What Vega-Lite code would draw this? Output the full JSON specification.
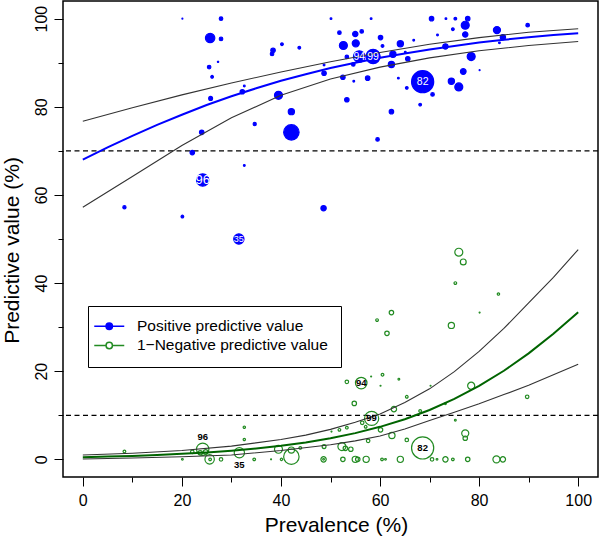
{
"$schema":"https://vega.github.io/schema/vega-lite/v6.json",
"width":535,"height":476,"autosize":"none",
"padding":{"left":63,"top":1,"right":2,"bottom":59},
"background":"white",
"config":{
 "view":{"stroke":"black","strokeWidth":1.5},
 "font":"Liberation Sans",
 "axis":{"domain":false,"grid":false,"tickColor":"black","tickWidth":1,"labelFont":"Liberation Sans","labelFontSize":16,"labelColor":"black","titleFont":"Liberation Sans","titleFontSize":21,"titleFontWeight":"normal","titleColor":"black"}
},
"datasets":{
"refs":[{"y":70},{"y":10}],
"pts":[
{"s":"PPV","x":20.1,"y":100,"n":3},{"s":"PPV","x":27.9,"y":100,"n":40},{"s":"PPV","x":25.7,"y":95.6,"n":281},{"s":"PPV","x":27.9,"y":95.4,"n":40},
{"s":"PPV","x":27.3,"y":90.2,"n":6},{"s":"PPV","x":25.5,"y":89.0,"n":40},{"s":"PPV","x":26.1,"y":86.8,"n":23},{"s":"PPV","x":25.8,"y":81.9,"n":48},
{"s":"PPV","x":24.0,"y":74.2,"n":63},{"s":"PPV","x":22.1,"y":69.6,"n":63},{"s":"PPV","x":24.2,"y":63.4,"n":490},{"s":"PPV","x":8.4,"y":57.2,"n":32},
{"s":"PPV","x":20.1,"y":55.1,"n":23},{"s":"PPV","x":31.5,"y":50.0,"n":336},{"s":"PPV","x":32.6,"y":66.7,"n":10},{"s":"PPV","x":34.7,"y":76.1,"n":32},
{"s":"PPV","x":32.6,"y":84.7,"n":10},{"s":"PPV","x":32.2,"y":83.4,"n":63},{"s":"PPV","x":39.5,"y":82.6,"n":203},{"s":"PPV","x":42.1,"y":78.9,"n":123},
{"s":"PPV","x":42.1,"y":74.2,"n":757},{"s":"PPV","x":38.4,"y":92.8,"n":63},{"s":"PPV","x":38.2,"y":92.0,"n":40},{"s":"PPV","x":40.2,"y":94.2,"n":23},
{"s":"PPV","x":43.7,"y":93.4,"n":23},{"s":"PPV","x":50.1,"y":100,"n":10},{"s":"PPV","x":58.2,"y":100,"n":10},{"s":"PPV","x":70.4,"y":100,"n":63},
{"s":"PPV","x":73.3,"y":100,"n":10},{"s":"PPV","x":75.2,"y":100,"n":23},{"s":"PPV","x":77.7,"y":100,"n":63},{"s":"PPV","x":77.2,"y":98.5,"n":203},
{"s":"PPV","x":77.2,"y":96.4,"n":90},{"s":"PPV","x":74.7,"y":97.6,"n":23},{"s":"PPV","x":71.6,"y":96.3,"n":10},{"s":"PPV","x":83.6,"y":97.4,"n":160},
{"s":"PPV","x":89.8,"y":98.5,"n":40},{"s":"PPV","x":84.8,"y":95.8,"n":90},{"s":"PPV","x":84.1,"y":94.5,"n":10},{"s":"PPV","x":78.4,"y":91.4,"n":203},
{"s":"PPV","x":76.8,"y":88.0,"n":102},{"s":"PPV","x":80.1,"y":88.3,"n":3},{"s":"PPV","x":74.4,"y":85.8,"n":123},{"s":"PPV","x":75.9,"y":84.5,"n":203},
{"s":"PPV","x":68.6,"y":85.7,"n":1563},{"s":"PPV","x":70.6,"y":82.8,"n":40},{"s":"PPV","x":68.1,"y":80.5,"n":23},{"s":"PPV","x":65.4,"y":84.3,"n":23},
{"s":"PPV","x":63.7,"y":86.5,"n":10},{"s":"PPV","x":62.3,"y":78.9,"n":63},{"s":"PPV","x":59.5,"y":72.6,"n":40},{"s":"PPV","x":48.6,"y":57.0,"n":90},
{"s":"PPV","x":53.3,"y":81.6,"n":63},{"s":"PPV","x":57.5,"y":86.5,"n":63},{"s":"PPV","x":54.7,"y":85.8,"n":10},{"s":"PPV","x":52.5,"y":86.7,"n":63},
{"s":"PPV","x":48.7,"y":87.6,"n":63},{"s":"PPV","x":48.7,"y":89.5,"n":10},{"s":"PPV","x":51.8,"y":96.8,"n":40},{"s":"PPV","x":55.0,"y":96.5,"n":90},
{"s":"PPV","x":56.3,"y":97.1,"n":40},{"s":"PPV","x":52.6,"y":93.9,"n":203},{"s":"PPV","x":55.1,"y":94.4,"n":160},{"s":"PPV","x":55.8,"y":91.4,"n":423},
{"s":"PPV","x":58.6,"y":91.4,"n":640},{"s":"PPV","x":60.1,"y":95.7,"n":63},{"s":"PPV","x":60.5,"y":93.8,"n":23},{"s":"PPV","x":64.1,"y":94.3,"n":123},
{"s":"PPV","x":66.8,"y":95.1,"n":10},{"s":"PPV","x":62.6,"y":91.9,"n":123},{"s":"PPV","x":62.3,"y":89.6,"n":123},{"s":"PPV","x":65.6,"y":90.9,"n":63},
{"s":"PPV","x":73.2,"y":93.7,"n":90},{"s":"PPV","x":65.1,"y":92.4,"n":10},{"s":"PPV","x":54.6,"y":89.6,"n":40},{"s":"PPV","x":53.3,"y":91.3,"n":40},
{"s":"NPV","x":8.4,"y":1.8,"n":23},{"s":"NPV","x":20.1,"y":0.0,"n":10},{"s":"NPV","x":24.2,"y":2.3,"n":490},{"s":"NPV","x":22.1,"y":1.7,"n":40},
{"s":"NPV","x":23.7,"y":1.5,"n":63},{"s":"NPV","x":24.8,"y":1.7,"n":63},{"s":"NPV","x":25.6,"y":0.0,"n":281},{"s":"NPV","x":25.7,"y":0.0,"n":23},
{"s":"NPV","x":27.9,"y":0.0,"n":40},{"s":"NPV","x":32.6,"y":7.3,"n":17},{"s":"NPV","x":32.6,"y":4.5,"n":17},{"s":"NPV","x":31.6,"y":1.5,"n":336},
{"s":"NPV","x":34.6,"y":0.0,"n":23},{"s":"NPV","x":38.0,"y":0.0,"n":3},{"s":"NPV","x":39.5,"y":2.3,"n":203},{"s":"NPV","x":40.1,"y":0.0,"n":17},
{"s":"NPV","x":42.1,"y":0.6,"n":757},{"s":"NPV","x":42.1,"y":2.1,"n":123},{"s":"NPV","x":43.9,"y":2.6,"n":23},{"s":"NPV","x":48.7,"y":2.9,"n":48},
{"s":"NPV","x":48.6,"y":0.0,"n":90},{"s":"NPV","x":48.6,"y":0.0,"n":10},{"s":"NPV","x":52.3,"y":2.9,"n":203},{"s":"NPV","x":53.0,"y":2.5,"n":63},
{"s":"NPV","x":54.1,"y":2.3,"n":63},{"s":"NPV","x":52.5,"y":0.0,"n":63},{"s":"NPV","x":55.0,"y":0.0,"n":123},{"s":"NPV","x":55.5,"y":0.0,"n":63},
{"s":"NPV","x":57.2,"y":0.0,"n":123},{"s":"NPV","x":60.4,"y":0.0,"n":23},{"s":"NPV","x":61.1,"y":0.0,"n":10},{"s":"NPV","x":64.1,"y":0.0,"n":123},
{"s":"NPV","x":68.6,"y":2.6,"n":1563},{"s":"NPV","x":70.5,"y":0.0,"n":40},{"s":"NPV","x":71.5,"y":0.0,"n":10},{"s":"NPV","x":73.2,"y":0.0,"n":90},
{"s":"NPV","x":74.7,"y":0.0,"n":23},{"s":"NPV","x":77.7,"y":0.0,"n":63},{"s":"NPV","x":83.5,"y":0.0,"n":160},{"s":"NPV","x":84.8,"y":0.0,"n":90},
{"s":"NPV","x":65.4,"y":4.4,"n":40},{"s":"NPV","x":62.4,"y":5.4,"n":123},{"s":"NPV","x":57.6,"y":4.2,"n":40},{"s":"NPV","x":60.1,"y":6.7,"n":63},
{"s":"NPV","x":58.3,"y":9.3,"n":640},{"s":"NPV","x":56.4,"y":8.3,"n":40},{"s":"NPV","x":57.1,"y":7.4,"n":23},{"s":"NPV","x":53.3,"y":7.2,"n":23},
{"s":"NPV","x":51.8,"y":6.7,"n":23},{"s":"NPV","x":50.2,"y":6.3,"n":3},{"s":"NPV","x":54.8,"y":12.7,"n":63},{"s":"NPV","x":56.2,"y":17.3,"n":423},
{"s":"NPV","x":53.3,"y":17.6,"n":40},{"s":"NPV","x":58.2,"y":18.8,"n":3},{"s":"NPV","x":60.5,"y":19.2,"n":23},{"s":"NPV","x":60.1,"y":16.7,"n":3},
{"s":"NPV","x":63.8,"y":18.2,"n":10},{"s":"NPV","x":62.8,"y":11.4,"n":90},{"s":"NPV","x":65.4,"y":14.2,"n":23},{"s":"NPV","x":68.1,"y":11.0,"n":23},
{"s":"NPV","x":70.2,"y":16.7,"n":3},{"s":"NPV","x":73.2,"y":12.6,"n":10},{"s":"NPV","x":75.2,"y":8.9,"n":10},{"s":"NPV","x":78.4,"y":16.7,"n":160},
{"s":"NPV","x":77.2,"y":5.9,"n":160},{"s":"NPV","x":77.2,"y":4.8,"n":63},{"s":"NPV","x":89.7,"y":14.2,"n":40},{"s":"NPV","x":75.9,"y":47.0,"n":203},
{"s":"NPV","x":76.8,"y":44.8,"n":109},{"s":"NPV","x":75.2,"y":40.0,"n":23},{"s":"NPV","x":83.9,"y":37.5,"n":17},{"s":"NPV","x":80.1,"y":33.3,"n":3},
{"s":"NPV","x":74.4,"y":30.4,"n":123},{"s":"NPV","x":62.3,"y":33.3,"n":63},{"s":"NPV","x":59.4,"y":31.6,"n":23},{"s":"NPV","x":61.4,"y":28.6,"n":63}
],
"curves":[
{"c":"ppv","x":0,"y":68.0},{"c":"ppv","x":5,"y":70.8},{"c":"ppv","x":10,"y":73.4},{"c":"ppv","x":15,"y":75.9},{"c":"ppv","x":20,"y":78.2},{"c":"ppv","x":25,"y":80.4},{"c":"ppv","x":30,"y":82.4},{"c":"ppv","x":35,"y":84.2},{"c":"ppv","x":40,"y":85.9},{"c":"ppv","x":45,"y":87.4},{"c":"ppv","x":50,"y":88.8},{"c":"ppv","x":55,"y":90.0},{"c":"ppv","x":60,"y":91.1},{"c":"ppv","x":65,"y":92.1},{"c":"ppv","x":70,"y":93.0},{"c":"ppv","x":75,"y":93.8},{"c":"ppv","x":80,"y":94.6},{"c":"ppv","x":85,"y":95.2},{"c":"ppv","x":90,"y":95.8},{"c":"ppv","x":95,"y":96.3},{"c":"ppv","x":100,"y":96.7},
{"c":"ppvhi","x":0,"y":76.7},{"c":"ppvhi","x":10,"y":79.8},{"c":"ppvhi","x":20,"y":82.7},{"c":"ppvhi","x":30,"y":85.4},{"c":"ppvhi","x":40,"y":87.9},{"c":"ppvhi","x":50,"y":90.2},{"c":"ppvhi","x":60,"y":92.3},{"c":"ppvhi","x":70,"y":94.2},{"c":"ppvhi","x":80,"y":95.7},{"c":"ppvhi","x":90,"y":96.9},{"c":"ppvhi","x":100,"y":97.7},
{"c":"ppvlo","x":0,"y":57.2},{"c":"ppvlo","x":10,"y":64.2},{"c":"ppvlo","x":20,"y":71.2},{"c":"ppvlo","x":30,"y":77.5},{"c":"ppvlo","x":40,"y":82.6},{"c":"ppvlo","x":50,"y":86.3},{"c":"ppvlo","x":60,"y":89.0},{"c":"ppvlo","x":70,"y":91.1},{"c":"ppvlo","x":80,"y":92.7},{"c":"ppvlo","x":90,"y":93.9},{"c":"ppvlo","x":100,"y":94.8},
{"c":"npv","x":0,"y":0.5},{"c":"npv","x":5,"y":0.63},{"c":"npv","x":10,"y":0.79},{"c":"npv","x":15,"y":0.99},{"c":"npv","x":20,"y":1.25},{"c":"npv","x":25,"y":1.57},{"c":"npv","x":30,"y":1.96},{"c":"npv","x":35,"y":2.46},{"c":"npv","x":40,"y":3.08},{"c":"npv","x":45,"y":3.84},{"c":"npv","x":50,"y":4.79},{"c":"npv","x":55,"y":5.95},{"c":"npv","x":60,"y":7.38},{"c":"npv","x":65,"y":9.11},{"c":"npv","x":70,"y":11.2},{"c":"npv","x":75,"y":13.71},{"c":"npv","x":80,"y":16.66},{"c":"npv","x":85,"y":20.1},{"c":"npv","x":90,"y":24.05},{"c":"npv","x":95,"y":28.5},{"c":"npv","x":100,"y":33.4},
{"c":"npvhi","x":0,"y":1.0},{"c":"npvhi","x":10,"y":1.4},{"c":"npvhi","x":20,"y":2.0},{"c":"npvhi","x":30,"y":3.0},{"c":"npvhi","x":40,"y":4.5},{"c":"npvhi","x":45,"y":5.5},{"c":"npvhi","x":50,"y":6.8},{"c":"npvhi","x":55,"y":8.4},{"c":"npvhi","x":60,"y":10.3},{"c":"npvhi","x":65,"y":12.9},{"c":"npvhi","x":70,"y":16.0},{"c":"npvhi","x":75,"y":19.9},{"c":"npvhi","x":80,"y":24.5},{"c":"npvhi","x":85,"y":29.7},{"c":"npvhi","x":90,"y":35.5},{"c":"npvhi","x":95,"y":41.3},{"c":"npvhi","x":100,"y":47.6},
{"c":"npvlo","x":0,"y":0.1},{"c":"npvlo","x":10,"y":0.3},{"c":"npvlo","x":20,"y":0.6},{"c":"npvlo","x":30,"y":1.0},{"c":"npvlo","x":40,"y":2.0},{"c":"npvlo","x":50,"y":3.3},{"c":"npvlo","x":55,"y":4.2},{"c":"npvlo","x":60,"y":5.3},{"c":"npvlo","x":65,"y":6.9},{"c":"npvlo","x":70,"y":8.8},{"c":"npvlo","x":75,"y":10.7},{"c":"npvlo","x":80,"y":12.6},{"c":"npvlo","x":85,"y":14.7},{"c":"npvlo","x":90,"y":16.8},{"c":"npvlo","x":95,"y":19.2},{"c":"npvlo","x":100,"y":21.6}
],
"labs":[
{"s":"PPV","x":24.2,"y":63.4,"label":"96"},{"s":"PPV","x":31.5,"y":50.0,"label":"35"},{"s":"PPV","x":55.8,"y":91.4,"label":"94"},{"s":"PPV","x":58.6,"y":91.4,"label":"99"},{"s":"PPV","x":68.6,"y":85.7,"label":"82"},
{"s":"NPV","x":24.2,"y":5.1,"label":"96"},{"s":"NPV","x":31.6,"y":-1.3,"label":"35"},{"s":"NPV","x":56.2,"y":17.3,"label":"94"},{"s":"NPV","x":58.3,"y":9.3,"label":"99"},{"s":"NPV","x":68.6,"y":2.6,"label":"82"}
]
},
"encoding":{"y":{"field":"y","type":"quantitative","scale":{"domain":[-4,104],"nice":false,"zero":false},"title":"Predictive value (%)",
 "axis":{"values":[0,10,20,30,40,50,60,70,80,90,100],"labelExpr":"datum.value % 20 === 0 ? datum.label : ''","tickSize":{"condition":{"test":"datum.value % 20 === 0","value":9},"value":5},"labelAngle":270,"labelAlign":"center","labelBaseline":"bottom","labelPadding":5,
  "titleX":-45,"titleY":249,"titleAngle":270,"titleAlign":"center","titleBaseline":"alphabetic"}}},
"layer":[
{"data":{"name":"refs"},"mark":{"type":"rule","color":"black","strokeWidth":1.2,"strokeDash":[5,3.5]},"encoding":{}},
{"data":{"name":"pts"},"mark":{"type":"point","shape":"circle","opacity":1,"strokeWidth":1.2},
 "encoding":{
  "x":{"field":"x","type":"quantitative","scale":{"domain":[-4,104],"nice":false,"zero":false},"title":"Prevalence (%)",
   "axis":{"values":[0,10,20,30,40,50,60,70,80,90,100],"labelExpr":"datum.value % 20 === 0 ? datum.label : ''","tickSize":{"condition":{"test":"datum.value % 20 === 0","value":9},"value":5},"labelPadding":6,
    "titleX":273,"titleY":54,"titleAlign":"center","titleBaseline":"alphabetic"}},
  "size":{"field":"n","type":"quantitative","scale":{"type":"linear","domain":[0,1000],"range":[0,314.16],"zero":true},"legend":null},
  "stroke":{"field":"s","type":"nominal","scale":{"domain":["PPV","NPV"],"range":["#0000ff","#228b22"]},
   "legend":{"orient":"none","legendX":25,"legendY":305,"title":null,"labelExpr":"datum.value == 'PPV' ? 'Positive predictive value' : '1−Negative predictive value'",
    "symbolType":"M-3,0L-0.64,0M0.64,0L3,0M0.64,0A0.64,0.64,0,1,1,-0.64,0A0.64,0.64,0,1,1,0.64,0Z","symbolSize":100,"symbolStrokeWidth":1.5,
    "labelFont":"Liberation Sans","labelFontSize":15.5,"labelColor":"black","labelOffset":20,"padding":12.5,"rowPadding":2.2,"strokeColor":"black","fillColor":"white","symbolOffset":1,"labelLimit":400}},
  "fill":{"field":"s","type":"nominal","scale":{"domain":["PPV","NPV"],"range":["#0000ff","rgba(255,255,255,0)"]},
   "legend":{"orient":"none","legendX":25,"legendY":305,"title":null,"labelExpr":"datum.value == 'PPV' ? 'Positive predictive value' : '1−Negative predictive value'",
    "symbolType":"M-3,0L-0.64,0M0.64,0L3,0M0.64,0A0.64,0.64,0,1,1,-0.64,0A0.64,0.64,0,1,1,0.64,0Z","symbolSize":100,"symbolStrokeWidth":1.5,
    "labelFont":"Liberation Sans","labelFontSize":15.5,"labelColor":"black","labelOffset":20,"padding":12.5,"rowPadding":2.2,"strokeColor":"black","fillColor":"white","symbolOffset":1,"labelLimit":400}}
 }},
{"data":{"name":"curves"},"transform":[{"filter":"indexof(['ppvhi','ppvlo','npvhi','npvlo'], datum.c) >= 0"}],"mark":{"type":"line","color":"#333333","strokeWidth":1.1},
 "encoding":{"x":{"field":"x","type":"quantitative","scale":{"domain":[-4,104],"nice":false,"zero":false},"title":"Prevalence (%)"},"detail":{"field":"c"}}},
{"data":{"name":"curves"},"transform":[{"filter":"datum.c == 'ppv'"}],"mark":{"type":"line","color":"#0000ff","strokeWidth":2},
 "encoding":{"x":{"field":"x","type":"quantitative","scale":{"domain":[-4,104],"nice":false,"zero":false},"title":"Prevalence (%)"}}},
{"data":{"name":"curves"},"transform":[{"filter":"datum.c == 'npv'"}],"mark":{"type":"line","color":"#006400","strokeWidth":2},
 "encoding":{"x":{"field":"x","type":"quantitative","scale":{"domain":[-4,104],"nice":false,"zero":false},"title":"Prevalence (%)"}}},
{"data":{"name":"labs"},"transform":[{"filter":"datum.s == 'PPV'"}],"mark":{"type":"text","color":"white","font":"Liberation Sans","baseline":"middle","align":"center"},
 "encoding":{"x":{"field":"x","type":"quantitative","scale":{"domain":[-4,104],"nice":false,"zero":false},"title":"Prevalence (%)"},"text":{"field":"label"},
  "size":{"condition":[{"test":"datum.label === '96'","value":13},{"test":"datum.label === '35'","value":9}],"value":10.5},
  "fontWeight":{"condition":{"test":"datum.label === '35'","value":"bold"},"value":"normal"}}},
{"data":{"name":"labs"},"transform":[{"filter":"datum.s == 'NPV'"}],"mark":{"type":"text","color":"black","font":"Liberation Sans","baseline":"middle","align":"center","fontWeight":"bold","fontSize":9.5},
 "encoding":{"x":{"field":"x","type":"quantitative","scale":{"domain":[-4,104],"nice":false,"zero":false},"title":"Prevalence (%)"},"text":{"field":"label"}}}
]
}
